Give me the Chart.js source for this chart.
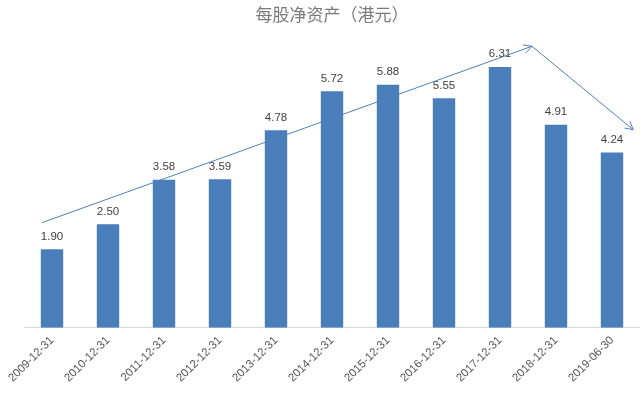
<!DOCTYPE html>
<html>
<head>
<meta charset="utf-8">
<script src="https://cdn.jsdelivr.net/npm/chart.js@4.4.0/dist/chart.umd.min.js"></script>
<style>
  html, body { margin: 0; padding: 0; background: #fff; }
  #wrap { width: 640px; height: 394px; }
</style>
</head>
<body>
<div id="wrap"><canvas id="myChart"></canvas></div>
<script>
// data
const labels = [
  "2009-12-31", "2010-12-31", "2011-12-31", "2012-12-31", "2013-12-31",
  "2014-12-31", "2015-12-31", "2016-12-31", "2017-12-31", "2018-12-31", "2019-06-30",
];
const navPerShare = [1.9, 2.5, 3.58, 3.59, 4.78, 5.72, 5.88, 5.55, 6.31, 4.91, 4.24];

// trend arrows, in (category index, value) units
const trendUp = [[-0.18, 2.54], [8.57, 6.81]];
const trendDown = [[8.57, 6.81], [10.38, 4.79]];

// value labels above the bars
const valueLabels = {
  id: "valueLabels",
  afterDatasetsDraw(chart) {
    const ctx = chart.ctx;
    const meta = chart.getDatasetMeta(0);
    ctx.save();
    ctx.fillStyle = "#404040";
    ctx.font = "11.5px 'Liberation Sans', Arial, sans-serif";
    ctx.textAlign = "center";
    ctx.textBaseline = "bottom";
    meta.data.forEach((bar, i) => {
      ctx.fillText(navPerShare[i].toFixed(2), bar.x, bar.y - 7);
    });
    ctx.restore();
  },
};

const arrows = {
  id: "arrows",
  afterDatasetsDraw(chart) {
    const ctx = chart.ctx;
    const xs = chart.scales.x;
    const ys = chart.scales.y;
    const drawArrow = function (pts) {
      const x1 = xs.getPixelForValue(pts[0][0]);
      const y1 = ys.getPixelForValue(pts[0][1]);
      const x2 = xs.getPixelForValue(pts[1][0]);
      const y2 = ys.getPixelForValue(pts[1][1]);
      const ang = Math.atan2(y2 - y1, x2 - x1);
      ctx.beginPath();
      ctx.moveTo(x1, y1);
      ctx.lineTo(x2, y2);
      ctx.moveTo(x2 - 9 * Math.cos(ang - 0.5), y2 - 9 * Math.sin(ang - 0.5));
      ctx.lineTo(x2, y2);
      ctx.lineTo(x2 - 9 * Math.cos(ang + 0.5), y2 - 9 * Math.sin(ang + 0.5));
      ctx.stroke();
    };
    ctx.save();
    ctx.strokeStyle = "#4f7fba";
    ctx.lineWidth = 1;
    drawArrow(trendUp);
    drawArrow(trendDown);
    ctx.restore();
  },
};

const ctx = document.getElementById("myChart").getContext("2d");

new Chart(ctx, {
  type: "bar",
  data: {
    labels: labels,
    datasets: [
      {
        label: "每股净资产",
        data: navPerShare,
        backgroundColor: "#4a7ebb",
        categoryPercentage: 1,
        barPercentage: 0.4,
      },
    ],
  },
  options: {
    responsive: true,
    maintainAspectRatio: false,
    animation: false,
    layout: { padding: { left: 24, right: 0, top: 0, bottom: 3 } },
    plugins: {
      legend: { display: false },
      tooltip: { enabled: false },
      title: {
        display: true,
        text: "每股净资产（港元）",
        color: "#7a7a7a",
        font: { family: "'Noto Sans CJK SC'", size: 17, weight: "normal" },
        padding: { top: 4, bottom: 14 },
      },
    },
    scales: {
      x: {
        grid: { display: false, drawTicks: false },
        border: { display: true, color: "#d9d9d9" },
        ticks: {
          color: "#555",
          font: { family: "'Liberation Sans', Arial, sans-serif", size: 11.5 },
          minRotation: 45,
          maxRotation: 45,
          padding: 6,
        },
      },
      y: {
        display: false,
        min: 0,
        max: 7,
      },
    },
  },
  plugins: [valueLabels, arrows],
});
</script>
</body>
</html>
